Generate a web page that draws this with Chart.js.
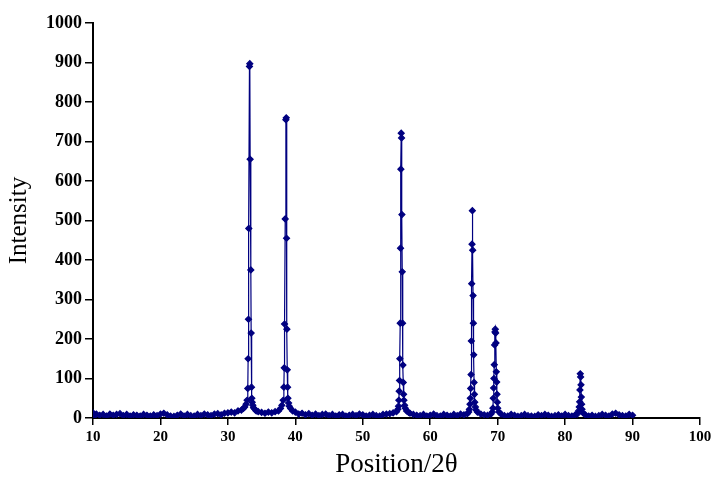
<!DOCTYPE html>
<html lang="en">
<head>
  <meta charset="UTF-8" />
  <title>XRD pattern</title>
  <script src="https://cdn.jsdelivr.net/npm/chart.js"></script>
  <style>
    html, body { margin: 0; padding: 0; background: #fff; }
    .wrap { width: 715px; height: 485px; }
  </style>
</head>
<body>
  <div class="wrap"><canvas id="xrdChart" width="715" height="485"></canvas></div>

  <script>
    const twoTheta = [
      10.0, 10.2, 10.5, 11.0, 11.5, 12.0, 12.5, 13.0, 13.5, 14.0, 14.5, 15.0, 15.5, 16.0, 16.5, 17.0, 17.5, 18.0, 18.5, 19.0,
      19.5, 20.0, 20.5, 21.0, 21.5, 22.0, 22.5, 23.0, 23.5, 24.0, 24.5, 25.0, 25.5, 26.0, 26.5, 27.0, 27.5, 28.0, 28.5, 29.0,
      29.5, 30.0, 30.5, 31.0, 31.5, 32.0, 32.3, 32.5, 32.7, 32.85, 32.95, 33.0, 33.05, 33.1, 33.2, 33.25, 33.3, 33.4, 33.45, 33.5,
      33.55, 33.6, 33.7, 33.8, 34.0, 34.2, 34.5, 35.0, 35.5, 36.0, 36.5, 37.0, 37.5, 37.8, 38.0, 38.2, 38.3, 38.35, 38.4, 38.5,
      38.6, 38.65, 38.7, 38.75, 38.8, 38.85, 38.9, 39.0, 39.1, 39.3, 39.6, 40.0, 40.5, 41.0, 41.5, 42.0, 42.5, 43.0, 43.5, 44.0,
      44.5, 45.0, 45.5, 46.0, 46.5, 47.0, 47.5, 48.0, 48.5, 49.0, 49.5, 50.0, 50.5, 51.0, 51.5, 52.0, 52.5, 53.0, 53.5, 54.0,
      54.5, 55.0, 55.2, 55.3, 55.35, 55.4, 55.45, 55.5, 55.55, 55.6, 55.65, 55.7, 55.75, 55.8, 55.85, 55.9, 55.95, 56.0, 56.05, 56.1,
      56.2, 56.3, 56.5, 56.8, 57.0, 57.5, 58.0, 58.5, 59.0, 59.5, 60.0, 60.5, 61.0, 61.5, 62.0, 62.5, 63.0, 63.5, 64.0, 64.5,
      65.0, 65.5, 65.7, 65.8, 65.9, 65.95, 66.0, 66.05, 66.1, 66.15, 66.2, 66.25, 66.3, 66.35, 66.4, 66.45, 66.5, 66.55, 66.6, 66.7,
      66.8, 67.0, 67.5, 68.0, 68.5, 69.0, 69.2, 69.3, 69.35, 69.4, 69.45, 69.5, 69.55, 69.6, 69.65, 69.7, 69.75, 69.8, 69.85, 69.9,
      69.95, 70.0, 70.2, 70.5, 71.0, 71.5, 72.0, 72.5, 73.0, 73.5, 74.0, 74.5, 75.0, 75.5, 76.0, 76.5, 77.0, 77.5, 78.0, 78.5,
      79.0, 79.5, 80.0, 80.5, 81.0, 81.5, 81.8, 82.0, 82.1, 82.15, 82.2, 82.25, 82.3, 82.35, 82.4, 82.45, 82.5, 82.7, 83.0, 83.5,
      84.0, 84.5, 85.0, 85.5, 86.0, 86.5, 87.0, 87.5, 88.0, 88.5, 89.0, 89.5, 90.0
    ];
    const intensity = [
      13, 6, 10, 7, 9, 5, 10, 7, 9, 11, 6, 9, 5, 8, 7, 5, 9, 7, 5, 8,
      6, 10, 12, 8, 5, 4, 7, 10, 5, 9, 6, 5, 9, 6, 10, 8, 6, 10, 11, 8,
      12, 13, 15, 13, 18, 20, 24, 28, 35, 45, 75, 150, 250, 480, 890, 897, 655, 375, 215, 78,
      50, 40, 32, 26, 22, 18, 16, 14, 12, 15, 13, 16, 18, 24, 32, 45, 78, 127, 238, 504,
      755, 760, 455, 225, 122, 78, 50, 38, 30, 24, 18, 15, 10, 12, 8, 11, 7, 10, 6, 9,
      10, 6, 9, 5, 8, 9, 5, 7, 9, 6, 10, 8, 5, 7, 9, 6, 5, 9, 10, 11,
      13, 16, 22, 30, 45, 68, 95, 150, 240, 430, 630, 721, 709, 515, 370, 240, 134, 90, 60, 45,
      32, 25, 18, 14, 12, 9, 7, 6, 9, 5, 7, 10, 6, 5, 9, 7, 5, 9, 6, 10,
      8, 11, 15, 22, 35, 50, 75, 110, 195, 340, 440, 525, 425, 310, 240, 160, 90, 60, 40, 28,
      20, 15, 10, 8, 7, 10, 15, 25, 50, 76, 100, 135, 185, 218, 225, 215, 190, 117, 91, 60,
      40, 25, 15, 10, 6, 5, 9, 7, 4, 6, 9, 6, 5, 4, 8, 6, 9, 7, 4, 6,
      8, 5, 9, 6, 5, 8, 10, 18, 28, 41, 71, 112, 104, 84, 53, 35, 22, 12, 8, 5,
      7, 4, 6, 9, 7, 5, 10, 12, 8, 6, 5, 9, 7
    ];
    const xTicks = [10, 20, 30, 40, 50, 60, 70, 80, 90, 100];
    const yTicks = [0, 100, 200, 300, 400, 500, 600, 700, 800, 900, 1000];

    const points = twoTheta.map((x, i) => ({ x: x, y: intensity[i] }));

    const serif = "'Liberation Serif', 'Times New Roman', serif";

    new Chart(document.getElementById('xrdChart'), {
      type: 'scatter',
      data: {
        datasets: [{
          label: 'Intensity',
          data: points,
          showLine: true,
          borderColor: '#000080',
          backgroundColor: '#000080',
          borderWidth: 1.2,
          pointStyle: 'rectRot',
          pointRadius: 3,
          pointHoverRadius: 3
        }]
      },
      options: {
        responsive: false,
        animation: false,
        layout: { padding: { left: 0, right: 15, top: 23, bottom: 0 } },
        plugins: {
          legend: { display: false },
          tooltip: { enabled: false }
        },
        scales: {
          x: {
            type: 'linear',
            min: 10,
            max: 100,
            afterBuildTicks: (axis) => { axis.ticks = xTicks.map(v => ({ value: v })); },
            afterFit: (axis) => { axis.height = 67; },
            grid: { drawOnChartArea: false, drawTicks: true, tickLength: 7, color: '#000', lineWidth: 1.5 },
            border: { color: '#000', width: 2 },
            ticks: { color: '#000', font: { family: serif, size: 15, weight: 'bold' }, padding: 3, maxRotation: 0 },
            title: { display: true, text: 'Position/2θ', color: '#000', font: { family: serif, size: 27 }, padding: { top: 1 } }
          },
          y: {
            min: 0,
            max: 1000,
            afterBuildTicks: (axis) => { axis.ticks = yTicks.map(v => ({ value: v })); },
            afterFit: (axis) => { axis.width = 93; },
            grid: { drawOnChartArea: false, drawTicks: true, tickLength: 8, color: '#000', lineWidth: 1.5 },
            border: { color: '#000', width: 2 },
            ticks: { color: '#000', font: { family: serif, size: 18, weight: 'bold' }, padding: 3, callback: (v) => String(v) },
            title: { display: true, text: 'Intensity', color: '#000', font: { family: serif, size: 25 }, padding: { bottom: 3 } }
          }
        }
      }
    });
  </script>
</body>
</html>
